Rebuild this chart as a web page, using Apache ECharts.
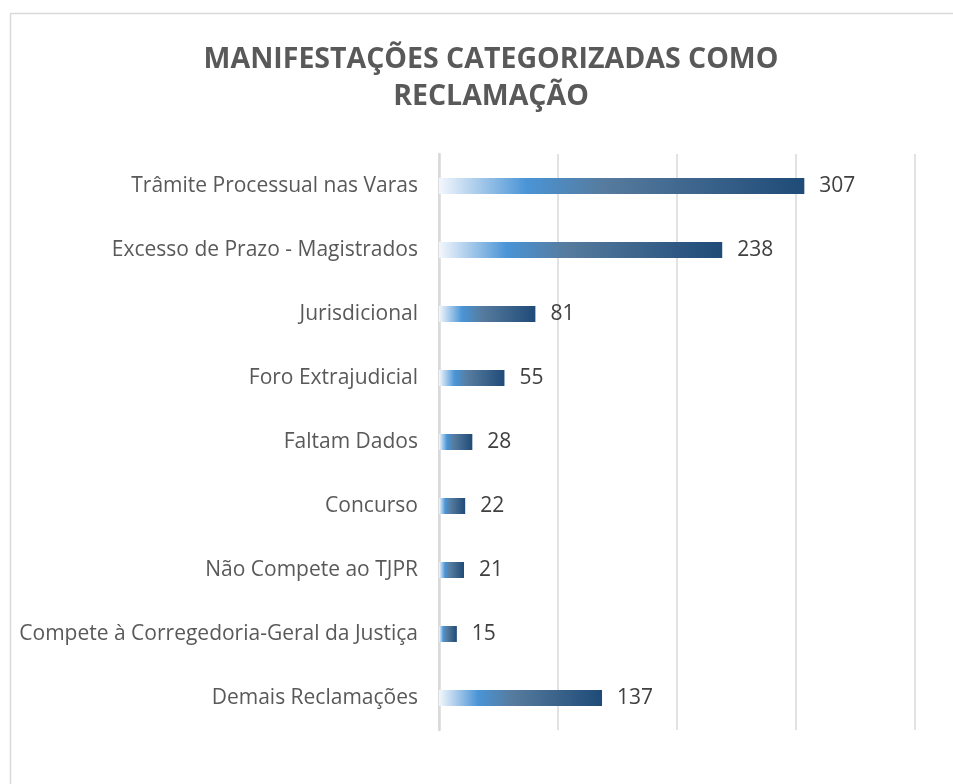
<!DOCTYPE html>
<html><head><meta charset="utf-8">
<script src="https://cdn.jsdelivr.net/npm/echarts@6/dist/echarts.min.js"></script>
<style>html,body{margin:0;padding:0;background:#fff}#c{width:953px;height:784px}</style>
</head><body><div id="c"></div>
<script>
const categories = ["Trâmite Processual nas Varas","Excesso de Prazo - Magistrados","Jurisdicional","Foro Extrajudicial","Faltam Dados","Concurso","Não Compete ao TJPR","Compete à Corregedoria-Geral da Justiça","Demais Reclamações"];
const values = [307,238,81,55,28,22,21,15,137];
const titleText = "MANIFESTAÇÕES CATEGORIZADAS COMO\nRECLAMAÇÃO";

const chart = echarts.init(document.getElementById('c'));
const grad = new echarts.graphic.LinearGradient(0,0,1,0,[
  {offset:0,color:'#f3f7fc'},
  {offset:0.24,color:'#4a94d6'},
  {offset:0.45,color:'#567b9e'},
  {offset:1,color:'#1f4b78'}
]);
chart.setOption({
  animation:false,
  graphic:[{type:'rect',shape:{x:10.5,y:13.5,width:1000,height:1000},style:{fill:'none',stroke:'#d9d9d9',lineWidth:1.5},silent:true}],
  title:{text:titleText,left:486,top:36,textAlign:'center',
    textStyle:{fontFamily:'Open Sans',fontWeight:'bold',fontSize:28.5,color:'#595959',lineHeight:37}},
  grid:{left:439,right:38,top:154,bottom:54},
  xAxis:{type:'value',min:0,max:400,interval:100,
    axisLabel:{show:false},axisTick:{show:false},axisLine:{show:false},
    splitLine:{lineStyle:{color:'#d9d9d9',width:1.5}}},
  yAxis:{type:'category',data:categories,inverse:true,
    axisTick:{show:false},
    axisLine:{lineStyle:{color:'#d9d9d9',width:2.5}},
    axisLabel:{margin:21,fontFamily:'Open Sans',fontSize:21,color:'#595959'}},
  series:[{type:'bar',data:values,barWidth:16,
    itemStyle:{color:grad},
    label:{show:true,position:'right',distance:15,fontFamily:'Open Sans',fontSize:21,color:'#404040'}}]
});
</script></body></html>
